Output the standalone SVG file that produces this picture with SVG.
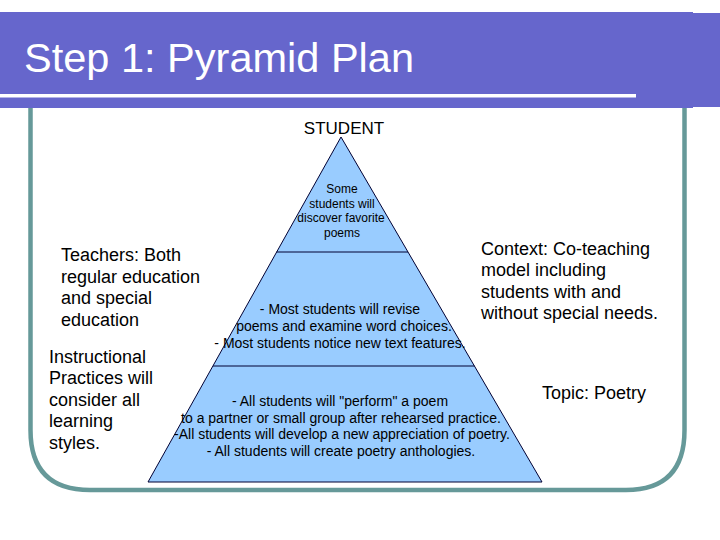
<svg xmlns="http://www.w3.org/2000/svg" width="720" height="540" viewBox="0 0 720 540">
<style>
.t{font-family:"Liberation Sans",Arial,sans-serif;fill:#000}
.side{font-size:18px}
.tier{fill:#99CCFF;stroke:#000033;stroke-width:1}
.s12{font-size:12px;text-anchor:middle}
.s14{font-size:14px;text-anchor:middle}
</style>
<rect x="0" y="0" width="720" height="540" fill="#fff"/>
<g id="title-bar">
<rect x="0" y="12" width="693" height="96" fill="#6666CC"/>
<rect x="693" y="13" width="27" height="94" fill="#6666CC"/>
<rect x="0" y="94" width="636" height="3.5" fill="#fff"/>
<text x="24" y="72" style="font-family:'Liberation Sans',Arial,sans-serif;font-size:41px;fill:#fff" textLength="390" lengthAdjust="spacingAndGlyphs">Step 1: Pyramid Plan</text>
</g>
<g id="frame">
<path d="M30.5,108 V430 Q30.5,490 90,490 H626 Q684.5,490 684.5,430 V108" fill="none" stroke="#669999" stroke-width="4.5"/>
</g>
<g id="pyramid">
<polygon class="tier" points="341,137 148,482 542,482"/>
<line x1="276.5" y1="252" x2="408" y2="252" stroke="#000033" stroke-width="1"/>
<line x1="213" y1="366" x2="474.5" y2="366" stroke="#000033" stroke-width="1"/>
</g>
<g id="student-label">
<text class="t" x="344" y="134" style="font-size:17px;text-anchor:middle">STUDENT</text>
</g>
<g id="tier-top">
<text class="t s12" x="342" y="193">Some</text>
<text class="t s12" x="342" y="207.5">students will</text>
<text class="t s12" x="341" y="222">discover favorite</text>
<text class="t s12" x="342" y="236.5">poems</text>
</g>
<g id="tier-middle">
<text class="t s14" x="340" y="314">- Most students will revise</text>
<text class="t s14" x="344" y="331">poems and examine word choices.</text>
<text class="t s14" x="340" y="348">- Most students notice new text features.</text>
</g>
<g id="tier-bottom">
<text class="t s14" x="340" y="406">- All students will "perform" a poem</text>
<text class="t s14" x="341" y="422.5">to a partner or small group after rehearsed practice.</text>
<text class="t s14" x="342" y="439">-All students will develop a new appreciation of poetry.</text>
<text class="t s14" x="341" y="455.5">- All students will create poetry anthologies.</text>
</g>
<g id="teachers">
<text class="t side" x="61" y="261">Teachers: Both</text>
<text class="t side" x="61" y="282.5">regular education</text>
<text class="t side" x="61" y="304">and special</text>
<text class="t side" x="61" y="325.5">education</text>
</g>
<g id="instructional">
<text class="t side" x="49" y="362.5">Instructional</text>
<text class="t side" x="49" y="384">Practices will</text>
<text class="t side" x="49" y="405.5">consider all</text>
<text class="t side" x="49" y="427">learning</text>
<text class="t side" x="49" y="448.5">styles.</text>
</g>
<g id="context">
<text class="t side" x="481" y="254.5">Context: Co-teaching</text>
<text class="t side" x="481" y="276">model including</text>
<text class="t side" x="481" y="297.5">students with and</text>
<text class="t side" x="481" y="319">without special needs.</text>
</g>
<g id="topic">
<text class="t side" x="542" y="398.5">Topic: Poetry</text>
</g>
<g id="connectors"></g>
</svg>
